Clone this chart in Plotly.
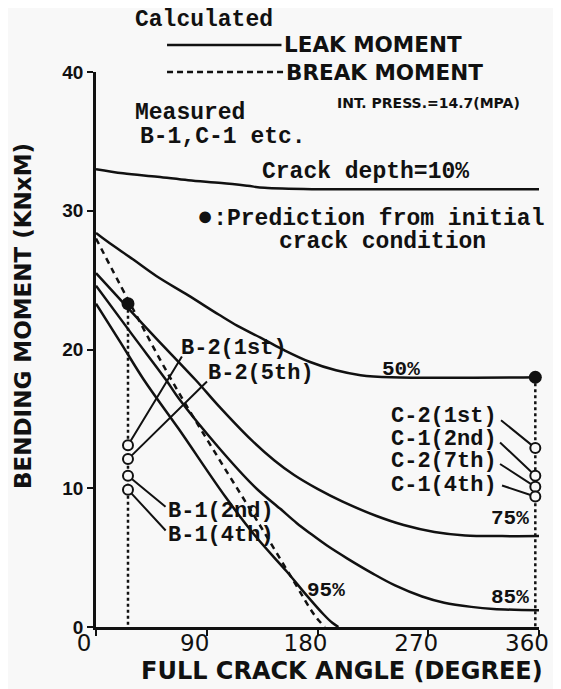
import plotly.graph_objects as go

# ---------------- data ----------------
ang_10 = [0, 22, 50, 75, 102, 123, 137, 180, 250, 360]
mom_10 = [33.0, 32.7, 32.45, 32.2, 32.0, 31.8, 31.65, 31.55, 31.55, 31.55]

ang_50 = [0, 9, 30, 49, 75, 100, 115, 137, 153, 174, 195, 215, 240, 360]
mom_50 = [28.4, 27.8, 26.5, 25.3, 23.9, 22.5, 21.7, 20.7, 19.95, 19.1, 18.5, 18.15, 18.0, 18.0]

ang_75 = [0, 30, 50, 81, 100, 126, 145, 161, 180, 200, 228, 250, 275, 300, 330, 360]
mom_75 = [25.5, 22.6, 20.7, 17.8, 15.9, 13.5, 12.0, 10.95, 9.95, 9.05, 8.0, 7.35, 6.85, 6.6, 6.55, 6.55]

ang_85 = [0, 30, 57, 67, 100, 129, 150, 163, 174, 188, 204, 225, 243, 265, 283, 305, 323, 360]
mom_85 = [24.6, 21.0, 17.8, 16.5, 12.9, 10.1, 8.5, 7.5, 6.75, 5.85, 4.95, 3.85, 3.0, 2.2, 1.75, 1.45, 1.3, 1.2]

ang_95 = [0, 20, 39, 67, 105, 130, 155, 171, 185, 192, 197]
mom_95 = [23.3, 20.5, 17.8, 14.3, 9.4, 6.5, 4.0, 2.3, 0.9, 0.3, 0.0]

ang_break = [0, 26, 62, 100, 130, 160, 178, 186]
mom_break = [28.0, 23.6, 17.7, 12.1, 7.8, 3.4, 0.8, 0.0]

pred_angle = [26, 357]
pred_moment = [23.3, 18.0]

meas_B_angle = 26
meas_B_moment = [13.1, 12.1, 10.9, 9.9]
meas_B_labels = ["B-2(1st)", "B-2(5th)", "B-1(2nd)", "B-1(4th)"]

meas_C_angle = 357
meas_C_moment = [12.9, 10.9, 10.1, 9.4]
meas_C_labels = ["C-2(1st)", "C-1(2nd)", "C-2(7th)", "C-1(4th)"]

x_ticks = [0, 90, 180, 270, 360]
y_ticks = [0, 10, 20, 30, 40]

# ---------------- layout geometry (page pixels; page body has 8px margin) ----------------
OFF = 8
W, H = 553, 681
L_PX, R_PX, T_PX, B_PX = 96, 545, 72, 627


def pfx(p):
    return (p - L_PX) / (R_PX - L_PX)


def pfy(p):
    return (B_PX - p) / (B_PX - T_PX)


def dx(p):
    return (p - L_PX) / (R_PX - L_PX) * 360


def dy(p):
    return (B_PX - p) / (B_PX - T_PX) * 40


INK = "#111111"
BG = "#f8f8f8"
MONO = dict(family="Liberation Mono", size=23, color=INK, weight="bold")
LAB = dict(MONO, size=22)
SANS = dict(family="DejaVu Sans", size=21.5, color=INK, weight="bold")

fig = go.Figure()

curve_style = dict(mode="lines", line=dict(color=INK, width=2.5), cliponaxis=False,
                   hoverinfo="skip", showlegend=False)
for a, m in [(ang_10, mom_10), (ang_50, mom_50), (ang_75, mom_75),
             (ang_85, mom_85), (ang_95, mom_95)]:
    fig.add_trace(go.Scatter(x=a, y=m, line_shape="spline", **curve_style))

fig.add_trace(go.Scatter(x=ang_break, y=mom_break, mode="lines", line_shape="spline",
                         line=dict(color=INK, width=2.5, dash="6px,5px"),
                         cliponaxis=False, showlegend=False))

# dotted verticals from predictions to the axis
for a, m in zip(pred_angle, pred_moment):
    fig.add_trace(go.Scatter(x=[a, a], y=[m, 0], mode="lines",
                             line=dict(color=INK, width=2.5, dash="dot"),
                             cliponaxis=False, showlegend=False))

# measured open circles
for ang, moms in [(meas_B_angle, meas_B_moment), (meas_C_angle, meas_C_moment)]:
    fig.add_trace(go.Scatter(x=[ang] * len(moms), y=moms, mode="markers",
                             cliponaxis=False, showlegend=False,
                             marker=dict(symbol="circle", size=10, color=BG,
                                         line=dict(color=INK, width=2))))

# prediction filled dots
fig.add_trace(go.Scatter(x=pred_angle, y=pred_moment, mode="markers", cliponaxis=False,
                         showlegend=False, marker=dict(size=13, color=INK)))

ann = []


def text(t, x, y, font, xanchor="left"):
    ann.append(dict(text=t, x=pfx(x), y=pfy(y), xref="paper", yref="paper",
                    showarrow=False, xanchor=xanchor, yanchor="middle", font=font))


text("Calculated", 133, 20, MONO)
text("LEAK MOMENT", 285, 44, SANS)
text("BREAK MOMENT", 287, 72, SANS)
text("INT. PRESS.=14.7(MPA)", 338, 103, dict(family="DejaVu Sans", size=14, color=INK, weight="bold"))
text("Measured", 133, 113, MONO)
text("B-1,C-1 etc.", 139, 137, MONO)
text("Crack depth=10%", 262, 172, MONO)
text('<span style="font-size:27px">●</span>:Prediction from initial', 196, 218, MONO)
text("crack condition", 279, 242, MONO)
text("50%", 384, 369, dict(MONO, size=21))
text("75%", 494, 518, dict(MONO, size=21))
text("85%", 494, 597, dict(MONO, size=21))
text("95%", 308, 590, dict(MONO, size=21))

# axis titles
ann.append(dict(text="FULL CRACK ANGLE (DEGREE)", x=pfx(345), y=pfy(671), xref="paper", yref="paper",
                showarrow=False, xanchor="center", yanchor="middle",
                font=dict(family="DejaVu Sans", size=24, color=INK, weight="bold")))
ann.append(dict(text="BENDING MOMENT (KNxM)", x=pfx(22), y=pfy(316), xref="paper", yref="paper",
                showarrow=False, xanchor="center", yanchor="middle", textangle=-90,
                font=dict(family="DejaVu Sans", size=23, color=INK, weight="bold")))

# measured labels with leader lines
B_label_pos = [(180, 348), (207, 373), (167, 511), (167, 535)]
B_leader_tail = [(184, 355), (210, 380), (168, 508), (168, 532)]
C_label_pos = [(393, 416), (393, 439), (393, 462), (393, 485)]
C_leader_tail = [(505, 419), (504, 441), (504, 463), (506, 485)]

for labels, moms, ang, lpos, tails in [
        (meas_B_labels, meas_B_moment, meas_B_angle, B_label_pos, B_leader_tail),
        (meas_C_labels, meas_C_moment, meas_C_angle, C_label_pos, C_leader_tail)]:
    for lab, m, (lx, ly), (tx, ty) in zip(labels, moms, lpos, tails):
        text(lab, lx, ly, LAB)
        ann.append(dict(text="", x=ang, y=m, xref="x", yref="y", axref="x", ayref="y",
                        ax=dx(tx), ay=dy(ty), showarrow=True, arrowhead=0, arrowwidth=2,
                        arrowcolor=INK, standoff=5))

shapes = [
    dict(type="line", xref="paper", yref="paper", x0=pfx(168), x1=pfx(284), y0=pfy(45), y1=pfy(45),
         line=dict(color=INK, width=2.5)),
    dict(type="line", xref="paper", yref="paper", x0=pfx(168), x1=pfx(286), y0=pfy(72), y1=pfy(72),
         line=dict(color=INK, width=2.5, dash="6px,4px")),
]

fig.update_layout(
    width=W, height=H, autosize=False,
    margin=dict(l=L_PX - OFF, r=W - (R_PX - OFF), t=T_PX - OFF, b=H - (B_PX - OFF), pad=0),
    paper_bgcolor=BG, plot_bgcolor=BG,
    annotations=ann, shapes=shapes, showlegend=False,
    xaxis=dict(range=[0, 360], tickvals=x_ticks, ticktext=[str(v) for v in x_ticks],
               showgrid=False, zeroline=False, showline=True, linecolor=INK, linewidth=2.5,
               ticks="outside", ticklen=6, tickwidth=2, tickcolor=INK,
               ticklabelshift=-12, ticklabelstandoff=-12,
               tickfont=dict(family="DejaVu Sans", size=23, color=INK)),
    yaxis=dict(range=[0, 40], tickvals=y_ticks, ticktext=[str(v) for v in y_ticks],
               showgrid=False, zeroline=False, showline=True, linecolor=INK, linewidth=2.5,
               ticks="outside", ticklen=6, tickwidth=2, tickcolor=INK,
               tickfont=dict(family="Liberation Sans", size=19, color=INK, weight="bold")),
)

fig.write_html("out.html")
